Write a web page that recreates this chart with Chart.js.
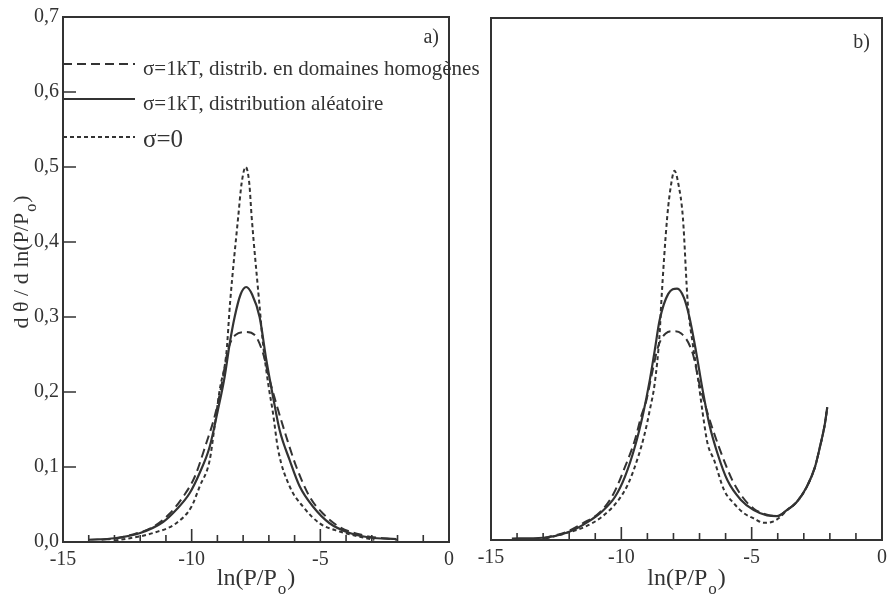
<!DOCTYPE html>
<html>
<head>
<meta charset="utf-8">
<script src="https://cdn.jsdelivr.net/npm/chart.js@4.4.1/dist/chart.umd.min.js"></script>
<style>
  html, body { margin: 0; padding: 0; background: #fff; }
  #wrap { position: relative; width: 893px; height: 598px; }
  #wrap canvas { position: absolute; left: 0; top: 0; }
</style>
</head>
<body>
<div id="wrap">
  <canvas id="panelA" width="893" height="598"></canvas>
  <canvas id="panelB" width="893" height="598"></canvas>
</div>
<script>
// values: x = ln(P/Po), y = d theta / d ln(P/Po)
const xTicks = [-15, -10, -5, 0];
const yTicks = [0, 0.1, 0.2, 0.3, 0.4, 0.5, 0.6, 0.7];
const legendLabels = ['σ=1kT, distrib. en domaines homogènes', 'σ=1kT, distribution aléatoire', 'σ=0'];
const panelLabels = ['a)', 'b)'];

// panel a
const aDashX = [-13.5, -12.9, -12.4, -11.5, -10.85, -10.34, -9.88, -9.43, -9.11, -8.85, -8.59, -8.3, -7.9, -7.55, -7.23, -6.97, -6.64, -6.32, -5.93, -5.41, -4.9, -4.25, -3.34, -2.57, -2.0];
const aDashY = [0.003, 0.005, 0.009, 0.020, 0.038, 0.060, 0.087, 0.132, 0.167, 0.207, 0.256, 0.276, 0.280, 0.276, 0.252, 0.216, 0.176, 0.140, 0.100, 0.060, 0.038, 0.020, 0.009, 0.005, 0.003];
const aSolidX = [-14.0, -13.0, -12.0, -11.1, -10.6, -10.08, -9.69, -9.30, -8.98, -8.72, -8.52, -8.33, -8.1, -7.88, -7.65, -7.36, -7.10, -6.84, -6.58, -6.19, -5.80, -5.28, -4.64, -3.86, -3.08, -2.05];
const aSolidY = [0.003, 0.005, 0.012, 0.027, 0.043, 0.065, 0.092, 0.127, 0.176, 0.220, 0.265, 0.300, 0.330, 0.340, 0.330, 0.300, 0.243, 0.194, 0.149, 0.109, 0.074, 0.047, 0.025, 0.012, 0.006, 0.004];
const aDotX = [-13.0, -12.4, -11.5, -10.6, -10.01, -9.69, -9.30, -9.11, -8.91, -8.65, -8.51, -8.19, -8.06, -7.9, -7.76, -7.67, -7.37, -7.23, -7.03, -6.84, -6.64, -6.19, -5.67, -5.03, -4.25, -3.34, -2.9];
const aDotY = [0.002, 0.005, 0.012, 0.025, 0.047, 0.074, 0.109, 0.154, 0.203, 0.252, 0.318, 0.434, 0.478, 0.500, 0.478, 0.434, 0.318, 0.265, 0.212, 0.172, 0.123, 0.074, 0.047, 0.025, 0.014, 0.006, 0.003];

// panel b
const bDashX = [-13.0, -12.8, -12.1, -11.5, -10.8, -10.3, -9.86, -9.48, -9.23, -9.04, -8.85, -8.59, -8.3, -8.0, -7.7, -7.26, -7.01, -6.69, -6.44, -6.12, -5.74, -5.36, -4.92, -4.41, -4.03, -3.65, -3.27, -2.89, -2.57, -2.38, -2.19, -2.10];
const bDashY = [0.002, 0.004, 0.011, 0.022, 0.038, 0.062, 0.098, 0.134, 0.167, 0.187, 0.219, 0.259, 0.277, 0.280, 0.277, 0.250, 0.210, 0.170, 0.143, 0.112, 0.080, 0.058, 0.042, 0.034, 0.032, 0.040, 0.051, 0.071, 0.098, 0.125, 0.156, 0.178];
const bSolidX = [-14.2, -13.0, -12.0, -11.25, -10.75, -10.24, -9.86, -9.48, -9.16, -8.91, -8.72, -8.53, -8.2, -7.86, -7.6, -7.39, -7.14, -6.88, -6.63, -6.31, -5.93, -5.42, -4.92, -4.41, -4.03, -3.65, -3.27, -2.89, -2.57, -2.38, -2.19, -2.10];
const bSolidY = [0.002, 0.003, 0.011, 0.025, 0.038, 0.058, 0.085, 0.125, 0.170, 0.214, 0.254, 0.295, 0.330, 0.337, 0.325, 0.299, 0.254, 0.201, 0.156, 0.116, 0.080, 0.054, 0.040, 0.033, 0.032, 0.040, 0.051, 0.071, 0.098, 0.125, 0.156, 0.178];
const bDotX = [-12.9, -12.14, -11.38, -10.75, -10.1, -9.73, -9.35, -9.10, -8.91, -8.72, -8.53, -8.47, -8.24, -8.09, -7.96, -7.81, -7.64, -7.45, -7.26, -7.07, -6.82, -6.69, -6.44, -6.06, -5.68, -5.30, -4.92, -4.54, -4.16, -3.90, -3.65, -3.27, -2.89, -2.57, -2.38, -2.19, -2.10];
const bDotY = [0.002, 0.009, 0.018, 0.031, 0.054, 0.076, 0.112, 0.143, 0.174, 0.210, 0.277, 0.317, 0.433, 0.477, 0.495, 0.477, 0.433, 0.317, 0.263, 0.219, 0.156, 0.129, 0.107, 0.067, 0.049, 0.036, 0.029, 0.023, 0.025, 0.031, 0.040, 0.051, 0.071, 0.098, 0.125, 0.156, 0.178];

const INK = '#333';
const FONT = '"Liberation Serif", "Times New Roman", serif';
const DASH = [9, 5];
const DOT = [4, 3];

const pts = (xs, ys) => xs.map((x, i) => ({x, y: ys[i]}));

function line(xs, ys, dash, w){
  return {data: pts(xs, ys), borderColor: INK, borderWidth: w, borderDash: dash,
    pointRadius: 0, fill: false, cubicInterpolationMode: 'monotone'};
}

// text with a subscript "o" (ln(P/Po))
function subText(ctx, pre, sub, post, cx, base, size){
  ctx.font = size + 'px ' + FONT;
  const w1 = ctx.measureText(pre).width, w3 = ctx.measureText(post).width;
  ctx.font = Math.round(size * 0.72) + 'px ' + FONT;
  const w2 = ctx.measureText(sub).width;
  let x = cx - (w1 + w2 + w3 + 2) / 2;
  ctx.font = size + 'px ' + FONT;
  ctx.fillText(pre, x, base); x += w1;
  ctx.font = Math.round(size * 0.72) + 'px ' + FONT;
  ctx.fillText(sub, x + 1, base + size * 0.38); x += w2 + 2;
  ctx.font = size + 'px ' + FONT;
  ctx.fillText(post, x, base);
}

function deco(cfg){
  return {
    id: 'deco',
    afterDraw(chart){
      const {ctx, chartArea: a, scales: {x, y}} = chart;
      ctx.save();
      ctx.strokeStyle = INK; ctx.fillStyle = INK; ctx.setLineDash([]);
      ctx.lineWidth = 2;
      ctx.strokeRect(a.left, a.top, a.right - a.left, a.bottom - a.top);
      // inward tick marks
      ctx.lineWidth = 1.6;
      ctx.beginPath();
      for (let v = -14; v <= -1; v++) {
        const px = x.getPixelForValue(v), len = v % 5 === 0 ? 13 : 7;
        ctx.moveTo(px, a.bottom); ctx.lineTo(px, a.bottom - len);
      }
      if (cfg.yMarks) yTicks.slice(1, -1).forEach(v => {
        const py = y.getPixelForValue(v);
        ctx.moveTo(a.left, py); ctx.lineTo(a.left + 13, py);
      });
      ctx.stroke();
      ctx.textBaseline = 'alphabetic';
      ctx.textAlign = 'right';
      ctx.font = '20px ' + FONT;
      ctx.fillText(cfg.label, cfg.labelX, cfg.labelY);
      ctx.textAlign = 'left';
      subText(ctx, 'ln(P/P', 'o', ')', (a.left + a.right) / 2, 585, 24);
      if (cfg.yTitle) {
        ctx.save();
        ctx.translate(21, 262);
        ctx.rotate(-Math.PI / 2);
        subText(ctx, 'd θ / d ln(P/P', 'o', ')', 0, 7, 22);
        ctx.restore();
      }
      if (cfg.legend) {
        const rows = [[64, DASH, 75, 21], [99, [], 110, 21], [137, DOT, 147, 25]];
        rows.forEach(([ly, dash, ty, fs], i) => {
          ctx.setLineDash(dash); ctx.lineWidth = 2;
          ctx.beginPath(); ctx.moveTo(a.left, ly); ctx.lineTo(a.left + 72, ly); ctx.stroke();
          ctx.font = fs + 'px ' + FONT;
          ctx.fillText(legendLabels[i], 143, ty);
        });
      }
      ctx.restore();
    }
  };
}

function panel(id, sets, cfg){
  new Chart(document.getElementById(id), {
    type: 'line',
    data: {datasets: sets},
    options: {
      responsive: false, animation: false,
      layout: {padding: cfg.pad},
      plugins: {legend: {display: false}, tooltip: {enabled: false}},
      scales: {
        x: {type: 'linear', min: -15, max: 0,
          afterBuildTicks: s => { s.ticks = xTicks.map(v => ({value: v})); },
          afterFit: s => { s.height = cfg.xh; },
          grid: {display: false, drawTicks: false}, border: {display: false},
          ticks: {color: INK, font: {family: FONT, size: 20}, padding: 6, maxRotation: 0, callback: v => String(v)}},
        y: {min: 0, max: 0.7, display: cfg.yLabels,
          afterBuildTicks: s => { s.ticks = yTicks.map(v => ({value: v})); },
          afterFit: s => { s.width = cfg.yw; },
          grid: {display: false, drawTicks: false}, border: {display: false},
          ticks: {color: INK, font: {family: FONT, size: 20}, padding: 4,
            callback: v => v.toFixed(1).replace('.', ',')}}
      }
    },
    plugins: [deco(cfg)]
  });
}

panel('panelA', [
  line(aDashX, aDashY, DASH, 2),
  line(aSolidX, aSolidY, [], 2.2),
  line(aDotX, aDotY, DOT, 2)
], {pad: {left: 0, top: 17, right: 444, bottom: 0}, xh: 56, yw: 63, yLabels: true, yMarks: true,
    yTitle: true, legend: true, label: panelLabels[0], labelX: 439, labelY: 43});

panel('panelB', [
  line(bDashX, bDashY, DASH, 2),
  line(bSolidX, bSolidY, [], 2.2),
  line(bDotX, bDotY, DOT, 2)
], {pad: {left: 491, top: 18, right: 7, bottom: 0}, xh: 58, yw: 0, yLabels: false, yMarks: false,
    yTitle: false, legend: false, label: panelLabels[1], labelX: 870, labelY: 48});
</script>
</body>
</html>
